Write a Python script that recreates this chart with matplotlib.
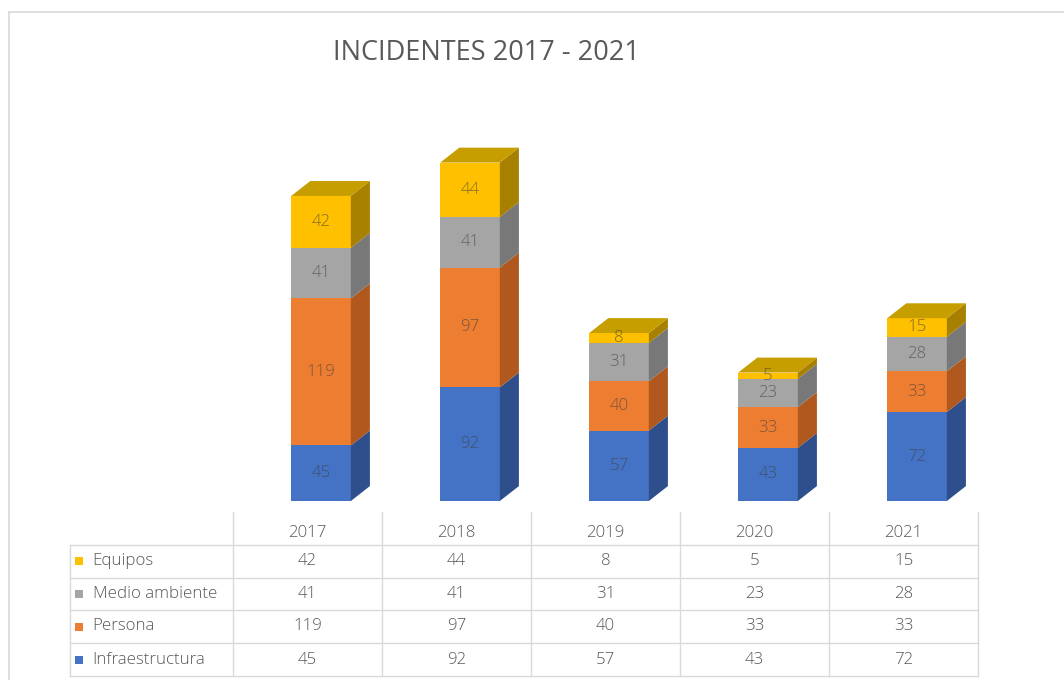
import matplotlib.pyplot as plt
from matplotlib.patches import Polygon, Rectangle
from matplotlib import transforms
from matplotlib.lines import Line2D

plt.rcParams['font.family'] = ['Open Sans', 'DejaVu Sans']

years = ['2017', '2018', '2019', '2020', '2021']
infraestructura = [45, 92, 57, 43, 72]
persona = [119, 97, 40, 33, 33]
medio_ambiente = [41, 41, 31, 23, 28]
equipos = [42, 44, 8, 5, 15]

# stacking order bottom -> top: name, values, front, side, top colours
series = [
    ('Infraestructura', infraestructura, '#4472C4', '#2E4F8C', '#3A62A8'),
    ('Persona', persona, '#ED7D31', '#B0581E', '#C96A28'),
    ('Medio ambiente', medio_ambiente, '#A5A5A5', '#787878', '#8C8C8C'),
    ('Equipos', equipos, '#FFC000', '#A88000', '#C79E00'),
]

W = 1064
H = 680
fig = plt.figure(figsize=(W / 100, H / 100), dpi=100)
ax = fig.add_axes([0.2317, 0.2632, 0.7002, 0.5449])
ax.set_xlim(-0.5, 4.5)
ax.set_ylim(0, 300)
ax.axis('off')

width = 0.40
dx = 0.128   # depth offset in x units
dy = 12.1    # depth offset in value units
fs = 12.2

n = len(years)
bottoms = [0] * n
for name, vals, front, side, top in series:
    ax.bar(range(n), vals, width=width, bottom=bottoms, color=front,
           linewidth=0, zorder=2)
    for i, v in enumerate(vals):
        x1 = i + width / 2
        y0 = bottoms[i]
        y1 = y0 + v
        ax.add_patch(Polygon([(x1, y0), (x1 + dx, y0 + dy), (x1 + dx, y1 + dy), (x1, y1)],
                             closed=True, facecolor=side, linewidth=0, zorder=2))
        ax.text(i, y0 + v / 2, str(v), ha='center', va='center', fontsize=fs,
                fontweight='light', color='#404040', alpha=0.65, zorder=4)
    bottoms = [b + v for b, v in zip(bottoms, vals)]

# top face of each column
for i in range(n):
    y1 = bottoms[i]
    ax.add_patch(Polygon([(i - width / 2, y1), (i - width / 2 + dx, y1 + dy),
                          (i + width / 2 + dx, y1 + dy), (i + width / 2, y1)],
                         closed=True, facecolor=series[-1][4], linewidth=0, zorder=3))

fig.text(0.457, 0.922, 'INCIDENTES 2017 - 2021', ha='center', va='center',
         fontsize=19.5, color='#595959')

# data table under the columns
trans = transforms.blended_transform_factory(ax.transData, fig.transFigure)
line_c = '#D9D9D9'
txt_c = '#595959'
col_off = -0.09
left_x = -1.685
def fy(px):
    return 1 - px / H

row_lines = [545, 577.5, 610, 643, 676]
for yl in row_lines:
    ax.add_line(Line2D([left_x, n - 0.5 + col_off], [fy(yl), fy(yl)], transform=trans,
                       color=line_c, lw=1, clip_on=False))
for k in range(n + 1):
    xv = k - 0.5 + col_off
    ax.add_line(Line2D([xv, xv], [fy(512), fy(676)], transform=trans,
                       color=line_c, lw=1, clip_on=False))
ax.add_line(Line2D([left_x, left_x], [fy(545), fy(676)], transform=trans,
                   color=line_c, lw=1, clip_on=False))

for i, yr in enumerate(years):
    ax.text(i + col_off, fy(533), yr, transform=trans, ha='center', va='center',
            fontsize=fs, fontweight='light', color=txt_c)

for r, (name, vals, front, side, top) in enumerate(reversed(series)):
    yc = (row_lines[r] + row_lines[r + 1]) / 2
    ax.add_patch(Rectangle((left_x + 0.035, fy(yc + 4)), 0.05, 8 / H, transform=trans,
                           facecolor=front, linewidth=0, clip_on=False))
    ax.text(left_x + 0.152, fy(yc), name, transform=trans, ha='left', va='center',
            fontsize=fs, fontweight='light', color=txt_c)
    for i, v in enumerate(vals):
        ax.text(i + col_off, fy(yc), str(v), transform=trans, ha='center', va='center',
                fontsize=fs, fontweight='light', color=txt_c)

# chart area border
fig.add_artist(Line2D([9 / W, 1], [fy(12), fy(12)], color=line_c, lw=1.2))
fig.add_artist(Line2D([9 / W, 9 / W], [fy(12), 0], color=line_c, lw=1.2))

fig.savefig('out.png', dpi=100, facecolor='white')
